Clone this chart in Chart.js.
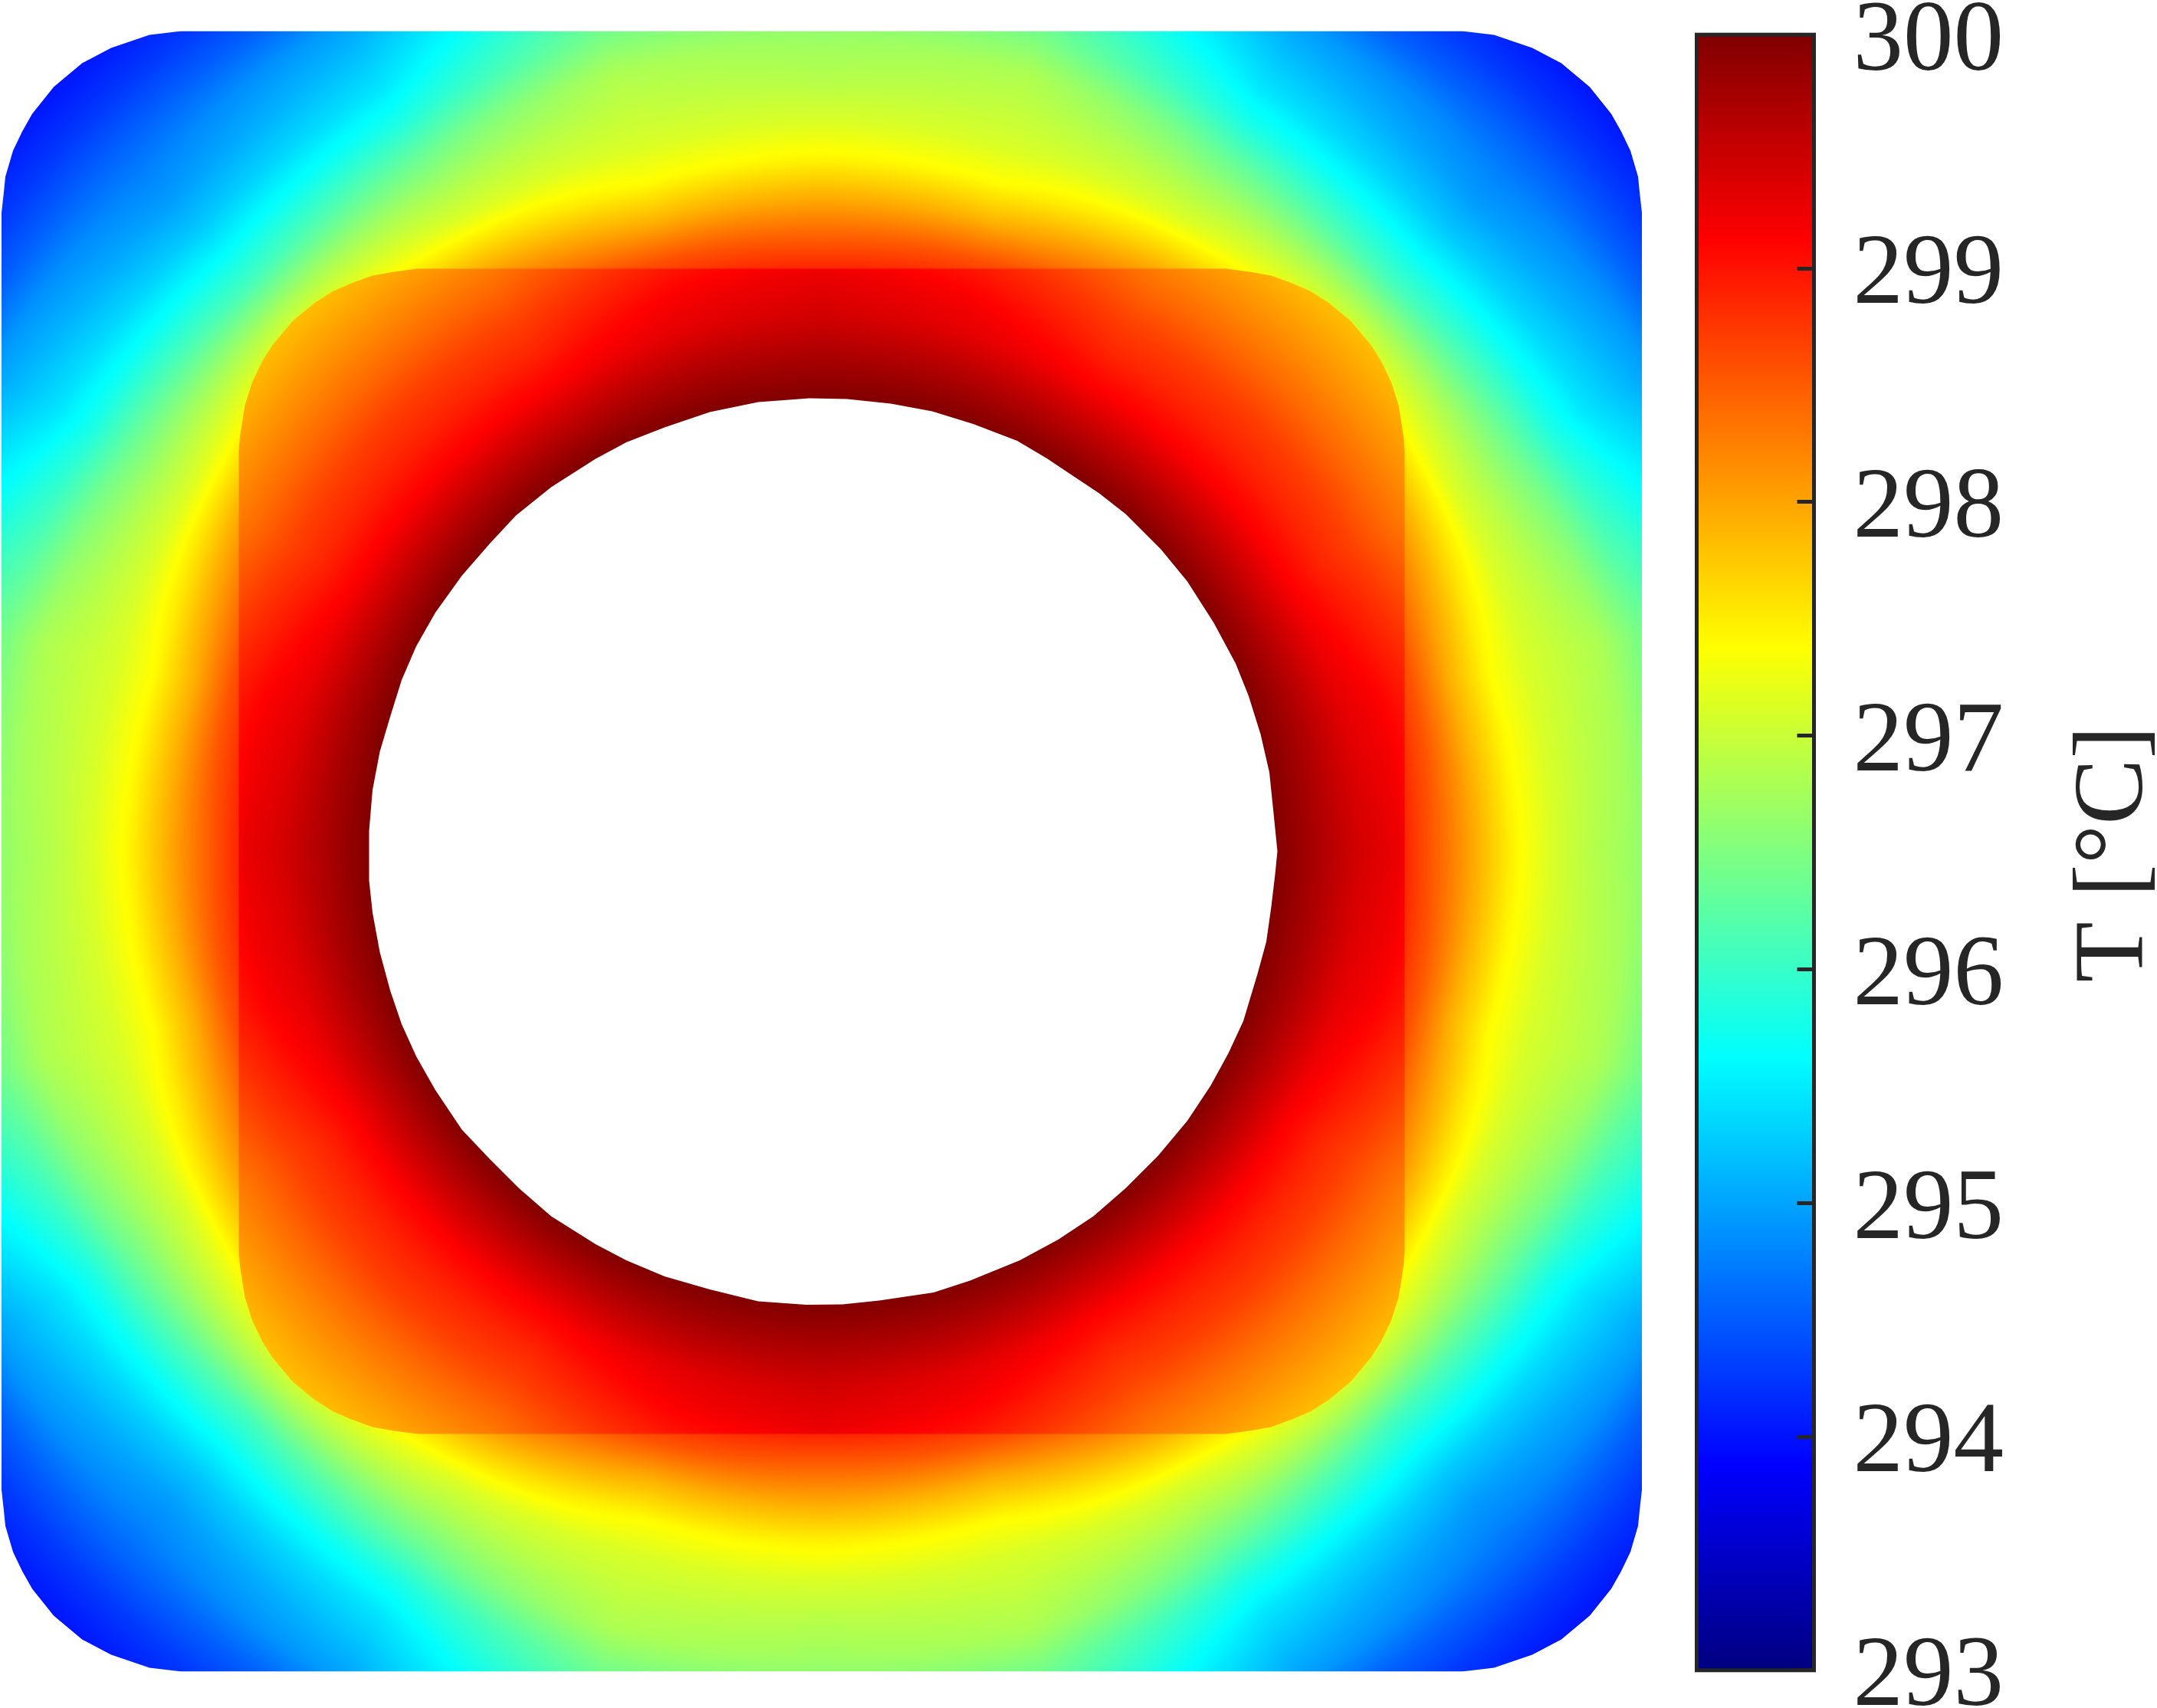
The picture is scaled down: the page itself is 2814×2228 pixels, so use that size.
<!DOCTYPE html>
<html>
<head>
<meta charset="utf-8">
<style>
	html, body { margin: 0; padding: 0; background: #fff; overflow: hidden; }
	canvas { position: absolute; top: 0; display: block; }
	#field { left: 0; }
	#bar { left: 2190px; }
</style>
<script src="https://cdn.jsdelivr.net/npm/chart.js@4/dist/chart.umd.min.js"></script>
</head>
<body>
<canvas id="field" width="2190" height="2228"></canvas>
<canvas id="bar" width="624" height="2228"></canvas>
<script>
// colour bar
const tickValues = [293, 294, 295, 296, 297, 298, 299, 300];
const barTitle = 'T [°C]';
const tMin = 293;
const tMax = 300;

// jet colour map
const cmapPos = [0, 0.125, 0.375, 0.625, 0.875, 1];
const cmapR = [0, 0, 0, 255, 255, 128];
const cmapG = [0, 0, 255, 255, 0, 0];
const cmapB = [128, 255, 255, 0, 0, 0];

// temperature read along rays from the centre, angle folded to 0-45 deg from the nearest axis
const angles = [0, 15, 30, 45];

// ring between hole and rounded square
const innerRadii = [59, 65, 70, 75, 80, 85, 90, 95, 100];
const innerT0 = [300, 299.68, 299.43, 299.26, 299.05, 298.85, 298.6, 298.35, 298.1];
const innerT15 = [300, 299.64, 299.32, 299.15, 298.9, 298.62, 298.4, 298.15, 297.9];
const innerT30 = [300, 299.55, 299.15, 298.88, 298.67, 298.4, 298.15, 297.9, 297.65];
const innerT45 = [300, 299.55, 299.15, 298.9, 298.7, 298.42, 298.17, 297.94, 297.7];

// outside of the rounded square
const outerRadii = [76, 80, 85, 90, 95, 100, 105, 110, 115, 120, 125, 130, 135, 140, 150];
const outerT0 = [298.88, 298.48, 297.97, 297.47, 297.13, 296.89, 296.72, 296.49, 296.19, 295.93, 295.67, 295.37, 295.16, 294.95, 294.53];
const outerT15 = [298.9, 298.55, 297.9, 297.4, 297.11, 296.96, 296.81, 296.46, 296.2, 295.9, 295.55, 295.16, 294.84, 294.53, 294.11];
const outerT30 = [299.1, 298.7, 298.25, 297.7, 297.13, 296.75, 296.32, 295.8, 295.45, 295.2, 294.95, 294.53, 294.27, 294.06, 293.8];
const outerT45 = [299.2, 298.8, 298.3, 297.85, 297.4, 296.78, 296.1, 295.64, 295.24, 294.95, 294.76, 294.53, 294.26, 294.06, 293.7];

// mesh outlines, top left corner of each rounded square
const outerCornerX = [-107, -106.7, -106.5, -105.5, -104.3, -103, -100.2, -96.5, -92.7, -87.7, -83.5];
const outerCornerY = [-83.3, -86, -88, -91.4, -93.9, -96.2, -99.7, -102.8, -104.8, -106.5, -107];
const innerCornerX = [-76.05, -75.9, -75.6, -75.25, -74.3, -73, -71.65, -69, -66.15, -63.8, -61.5, -58.65, -55.8, -52.65];
const innerCornerY = [-52.2, -54.05, -56.05, -58.2, -61.2, -63.9, -66.05, -69.2, -71.55, -73.05, -74.05, -75.1, -75.6, -76];

// faceted hole
const holeX = [
	3.3, 9, 14.4, 19.75, 25.5, 29.3, 36.2, 39.65, 44.25, 47.7, 51.15, 54, 55.7, 57.25, 58.4, 58.95, 59.45,
	59.15, 58.65, 58, 56.85, 55, 53.05, 50.75, 47.7, 43.85, 39.65, 35.45, 30.85, 25.85, 19.35, 14.6, 7.5, 2.7,
	-2, -8.3, -14.6, -20.5, -25.5, -29.5, -35.3, -39.5, -43.3, -46.95, -50.4, -52.9, -54.8, -56.3, -57.65, -58.6, -59.05,
	-59.05, -58.6, -57.65, -56.3, -54.8, -52.9, -50.4, -46.95, -43.3, -39.9, -35.3, -29.5, -25.5, -20.5, -14.6, -8.3, -1.6
];
const holeY = [
	-59, -58.4, -57.4, -55.75, -53.55, -51.3, -46.7, -44, -39.4, -35.2, -29.8, -24.5, -20.25, -15.3, -10.3, -4.95, 0,
	3, 7.2, 11.8, 16, 22.15, 26.35, 30.55, 35.15, 39.75, 43.95, 47.6, 50.65, 53.35, 56, 57.55, 58.6, 59.1,
	59.15, 58.7, 57.15, 55.45, 53.35, 51.25, 47.6, 43.95, 40.15, 36.3, 31.15, 26.75, 22.55, 18.15, 13.15, 8, 3.8,
	-2.65, -8, -13, -17.55, -22.35, -26.75, -31.15, -35.95, -40.15, -43.8, -47.5, -51.2, -53.35, -55.3, -57.3, -58.6, -59.1
];

const inkColor = '#262626';
const serif = 'Liberation Serif';

function jet(t){
	let v = (t - tMin) / (tMax - tMin);
	v = Math.min(1, Math.max(0, v));
	let i = 0;
	while(i < cmapPos.length - 2 && v > cmapPos[i + 1]) i++;
	const f = (v - cmapPos[i]) / (cmapPos[i + 1] - cmapPos[i]);
	return [
		cmapR[i] + (cmapR[i + 1] - cmapR[i]) * f,
		cmapG[i] + (cmapG[i + 1] - cmapG[i]) * f,
		cmapB[i] + (cmapB[i + 1] - cmapB[i]) * f
	];
}

function toPoints(xs, ys){
	return xs.map((x, i) => ({x: x, y: ys[i]}));
}

// one corner mirrored to all four, going round clockwise
function roundedBox(xs, ys){
	const tl = toPoints(xs, ys);
	const back = tl.slice().reverse();
	return tl
		.concat(back.map(p => ({x: -p.x, y: p.y})))
		.concat(tl.map(p => ({x: -p.x, y: -p.y})))
		.concat(back.map(p => ({x: p.x, y: -p.y})));
}

function sampleRow(radii, row, r){
	if(r <= radii[0]) return row[0];
	const last = radii.length - 1;
	if(r >= radii[last]) return row[last];
	let i = 0;
	while(r > radii[i + 1]) i++;
	return row[i] + (row[i + 1] - row[i]) * (r - radii[i]) / (radii[i + 1] - radii[i]);
}

// paints the table into a pattern the polygon fill can use, positions come from the chart scales
function fieldPattern(chart, radii, rows){
	const {x: xScale, y: yScale} = chart.scales;
	const area = chart.chartArea;
	const off = document.createElement('canvas');
	off.width = chart.width;
	off.height = chart.height;
	const offCtx = off.getContext('2d');
	const left = Math.floor(area.left), top = Math.floor(area.top);
	const w = Math.ceil(area.right) - left, h = Math.ceil(area.bottom) - top;
	const img = offCtx.createImageData(w, h);
	const xVals = [];
	for(let i = 0; i < w; i++) xVals.push(Math.abs(xScale.getValueForPixel(left + i + 0.5)));
	let k = 0;
	for(let j = 0; j < h; j++){
		const dy = Math.abs(yScale.getValueForPixel(top + j + 0.5));
		for(let i = 0; i < w; i++){
			const dx = xVals[i];
			const r = Math.sqrt(dx * dx + dy * dy);
			const deg = Math.atan2(Math.min(dx, dy), Math.max(dx, dy)) * 180 / Math.PI;
			let a = 0;
			while(a < angles.length - 2 && deg > angles[a + 1]) a++;
			const f = (deg - angles[a]) / (angles[a + 1] - angles[a]);
			const t0 = sampleRow(radii, rows[a], r);
			const t1 = sampleRow(radii, rows[a + 1], r);
			const c = jet(t0 + (t1 - t0) * f);
			img.data[k++] = c[0];
			img.data[k++] = c[1];
			img.data[k++] = c[2];
			img.data[k++] = 255;
		}
	}
	offCtx.putImageData(img, left, top);
	return chart.ctx.createPattern(off, 'no-repeat');
}

const patterns = {};
function lazyPattern(name, radii, rows){
	return ctx => {
		if(!ctx.chart.chartArea) return '#fff';
		if(!patterns[name]) patterns[name] = fieldPattern(ctx.chart, radii, rows);
		return patterns[name];
	};
}

function polygon(label, points, background){
	return {
		label: label,
		data: points,
		showLine: true,
		fill: 'shape',
		backgroundColor: background,
		borderWidth: 0,
		pointRadius: 0,
		tension: 0,
		clip: false
	};
}

let fieldChart = new Chart(document.getElementById('field'), {
	type: 'scatter',
	data: {
		datasets: [
			polygon('hole', toPoints(holeX, holeY), '#fff'),
			polygon('inner', roundedBox(innerCornerX, innerCornerY), lazyPattern('inner', innerRadii, [innerT0, innerT15, innerT30, innerT45])),
			polygon('outer', roundedBox(outerCornerX, outerCornerY), lazyPattern('outer', outerRadii, [outerT0, outerT15, outerT30, outerT45]))
		]
	},
	options: {
		responsive: false,
		animation: false,
		devicePixelRatio: 1,
		layout: { autoPadding: false, padding: { left: 2, right: 48, top: 40.5, bottom: 47.5 } },
		plugins: { legend: { display: false }, tooltip: { enabled: false } },
		events: [],
		scales: {
			x: { type: 'linear', display: false, min: -107, max: 107 },
			y: { type: 'linear', display: false, reverse: true, min: -107, max: 107 }
		}
	}
});

// box round the colour bar and the upward running title
const barDecor = {
	id: 'barDecor',
	afterDraw(chart){
		const {ctx, chartArea: a} = chart;
		ctx.save();
		ctx.strokeStyle = inkColor;
		ctx.lineWidth = 5;
		ctx.strokeRect(a.left, a.top, a.right - a.left, a.bottom - a.top);
		ctx.translate(604, 1114);
		ctx.rotate(-Math.PI / 2);
		ctx.fillStyle = inkColor;
		ctx.font = '129px "' + serif + '"';
		ctx.textAlign = 'center';
		ctx.textBaseline = 'alphabetic';
		ctx.fillText(barTitle, 0, 0);
		ctx.restore();
	}
};

function barGradient(c){
	const chart = c.chart;
	if(!chart.chartArea) return '#000';
	const s = chart.scales.y;
	const g = chart.ctx.createLinearGradient(0, s.getPixelForValue(tMin), 0, s.getPixelForValue(tMax));
	cmapPos.forEach((p, i) => {
		g.addColorStop(p, 'rgb(' + cmapR[i] + ',' + cmapG[i] + ',' + cmapB[i] + ')');
	});
	return g;
}

let barChart = new Chart(document.getElementById('bar'), {
	type: 'bar',
	data: {
		labels: ['T'],
		datasets: [{
			data: [[tMin, tMax]],
			backgroundColor: barGradient,
			borderWidth: 0,
			barPercentage: 1,
			categoryPercentage: 1
		}]
	},
	options: {
		responsive: false,
		animation: false,
		devicePixelRatio: 1,
		layout: { autoPadding: false, padding: { left: 23.5, right: 0, top: 45.2, bottom: 49.2 } },
		plugins: { legend: { display: false }, tooltip: { enabled: false } },
		events: [],
		scales: {
			x: { display: false },
			y: {
				position: 'right',
				min: tMin,
				max: tMax,
				afterBuildTicks: s => { s.ticks = tickValues.map(v => ({value: v})); },
				afterFit: s => {
					s.width = 447.5;
					// tick labels reach past the bar ends, keep the bar at full height
					s.paddingTop = 0;
					s.paddingBottom = 0;
				},
				border: { display: false },
				grid: {
					drawOnChartArea: false,
					drawTicks: true,
					tickLength: -22,
					tickWidth: 5,
					tickColor: inkColor,
					z: 1
				},
				ticks: {
					padding: 73,
					labelOffset: 11,
					color: inkColor,
					font: { family: serif, size: 131 }
				}
			}
		}
	},
	plugins: [barDecor]
});
</script>
</body>
</html>
